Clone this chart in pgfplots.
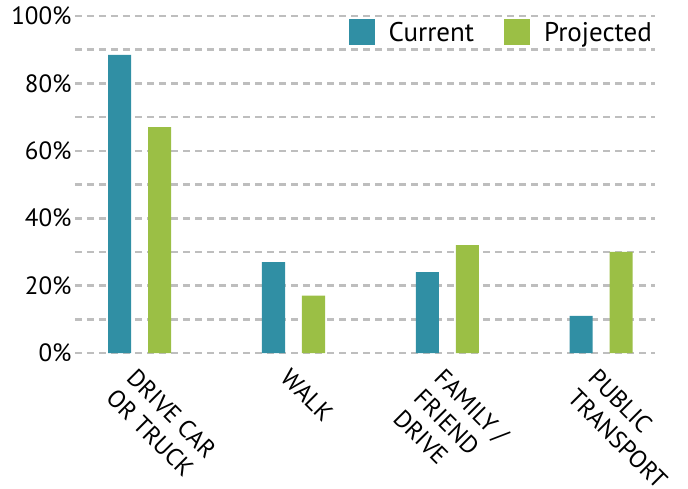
\documentclass[border=0pt]{standalone}
\usepackage{pgfplots}
\pgfplotsset{compat=1.18}
\usepackage{fontspec}
\setmainfont{PT Sans}
\definecolor{curr}{RGB}{48,143,164}
\definecolor{proj}{RGB}{155,191,69}
\definecolor{gridc}{RGB}{190,190,190}

\begin{document}
\begin{tikzpicture}
\begin{axis}[
  scale only axis, width=580pt, height=337pt,
  ymin=0, ymax=100, xmin=-0.42, xmax=3.35,
  axis line style={draw=none}, major tick style={draw=none}, minor tick style={draw=none},
  ytick={0,20,...,100}, minor ytick={10,30,...,90},
  ymajorgrids, yminorgrids,
  major grid style={gridc, line width=2.6pt, dash pattern=on 7pt off 5pt},
  minor grid style={gridc, line width=2.6pt, dash pattern=on 7pt off 5pt},
  yticklabel={\pgfmathprintnumber{\tick}\%},
  /pgf/number format/assume math mode=true,
  yticklabel style={font=\fontsize{25}{28}\selectfont},
  xtick={0,1,2,3},
  xticklabels={{DRIVE CAR\\OR TRUCK},{WALK},{FAMILY /\\FRIEND\\DRIVE},{PUBLIC\\TRANSPORT}},
  xticklabel style={xshift=-2pt, yshift=-9pt, rotate=-45, anchor=north west, align=left,
    font=\fontsize{24.5}{29}\selectfont},
  bar width=0.15,
  legend columns=2,
  legend style={draw=none, fill=none, at={(1,1)}, anchor=north east, font=\fontsize{27}{28}\selectfont,
    /tikz/every odd column/.append style={column sep=12pt},
    /tikz/every even column/.append style={column sep=28pt}, xshift=2pt, yshift=-1pt},
  legend image code/.code={\fill[#1] (0pt,-13pt) rectangle (26pt,13pt);},
]
\addplot[ybar, bar shift=-0.13, fill=curr, draw=none] coordinates {(0,88.5) (1,27) (2,24) (3,11)};
\addplot[ybar, bar shift=0.13, fill=proj, draw=none] coordinates {(0,67) (1,17) (2,32) (3,30)};
\legend{Current, Projected}
\end{axis}
\pgfresetboundingbox
\path (-75pt,-135pt) rectangle (613pt,353pt);
\end{tikzpicture}
\end{document}
